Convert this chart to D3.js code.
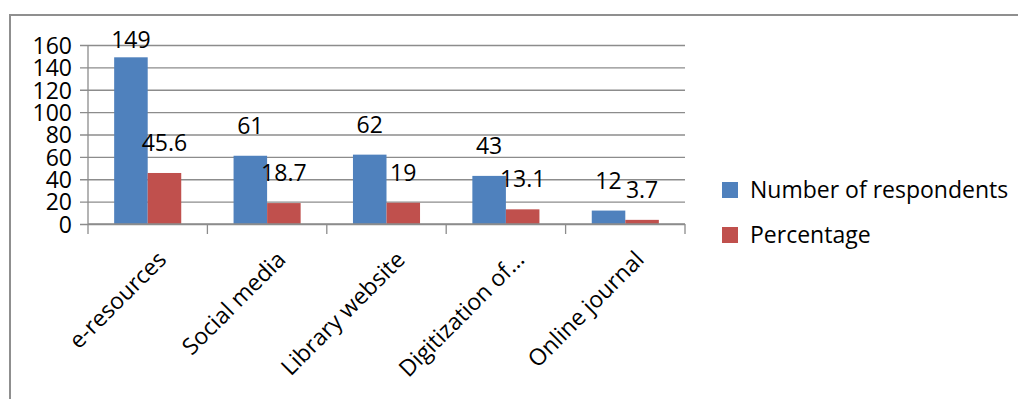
<!DOCTYPE html>
<html>
<head>
<meta charset="utf-8">
<script src="https://cdn.jsdelivr.net/npm/d3@7"></script>
<style>
  body { margin: 0; background: #fff; }
  svg text { font-family: "Open Sans", sans-serif; font-size: 23px; fill: #000; }
</style>
</head>
<body>
<svg id="chart" width="1018" height="399"></svg>
<script>
// Data
const categories = ["e-resources", "Social media", "Library website", "Digitization of...", "Online journal"];
const seriesNames = ["Number of respondents", "Percentage"];
const respondents = [149, 61, 62, 43, 12];
const percentage = [45.6, 18.7, 19, 13.1, 3.7];
const yTicks = [0, 20, 40, 60, 80, 100, 120, 140, 160];

const colors = ["#4F81BD", "#C0504D"];
const gridColor = "#8c8c8c";

const svg = d3.select("#chart");
const W = 1018, H = 399;

// Chart frame (top and left edges visible)
svg.append("path")
  .attr("d", `M10,${H} L10,15 L${W},15`)
  .attr("fill", "none")
  .attr("stroke", "#8f8f8f")
  .attr("stroke-width", 2);

const plot = { left: 88, right: 685, top: 45, bottom: 224 };

const x = d3.scaleBand()
  .domain(categories)
  .range([plot.left, plot.right])
  .paddingInner(0)
  .paddingOuter(0);

const xs = d3.scaleBand()
  .domain(seriesNames)
  .range([0, x.bandwidth()])
  .paddingInner(0)
  .paddingOuter(0.78);

const y = d3.scaleLinear()
  .domain([0, 160])
  .range([plot.bottom, plot.top]);

// Horizontal gridlines with left tick marks
const yAxis = d3.axisLeft(y)
  .tickValues(yTicks)
  .tickSize(-(plot.right - plot.left))
  .tickSizeOuter(0)
  .tickFormat(d3.format("d"));

const gy = svg.append("g")
  .attr("transform", `translate(${plot.left},0)`)
  .call(yAxis);
gy.select(".domain").remove();
gy.selectAll(".tick line")
  .attr("x1", -8)
  .attr("stroke", gridColor)
  .attr("stroke-width", 1.3);
gy.selectAll(".tick text")
  .attr("x", -16)
  .attr("dy", "0.36em")
  .attr("fill", "#000")
  .style("font-family", "'Open Sans', sans-serif")
  .style("font-size", "23px");

// Vertical axis line
svg.append("line")
  .attr("x1", plot.left).attr("x2", plot.left)
  .attr("y1", plot.top).attr("y2", plot.bottom)
  .attr("stroke", gridColor).attr("stroke-width", 1.3);

// Bars
const groups = svg.append("g").selectAll("g")
  .data(categories)
  .join("g")
  .attr("transform", d => `translate(${x(d)},0)`);

const rows = categories.map((c, i) => [
  { series: seriesNames[0], value: respondents[i], color: colors[0] },
  { series: seriesNames[1], value: percentage[i], color: colors[1] }
]);

groups.selectAll("rect")
  .data((d, i) => rows[i])
  .join("rect")
  .attr("x", d => xs(d.series))
  .attr("width", xs.bandwidth())
  .attr("y", d => y(d.value))
  .attr("height", d => y(0) - y(d.value))
  .attr("fill", d => d.color);

// Value labels above bars, kept inside the plot area
groups.selectAll("text.value")
  .data((d, i) => rows[i])
  .join("text")
  .attr("class", "value")
  .attr("x", d => xs(d.series) + xs.bandwidth() / 2)
  .attr("y", d => Math.max(y(d.value) - 22, plot.top + 3))
  .attr("text-anchor", "middle")
  .text(d => d.value);

// Category axis line and tick marks at band edges
svg.append("line")
  .attr("x1", plot.left).attr("x2", plot.right)
  .attr("y1", plot.bottom).attr("y2", plot.bottom)
  .attr("stroke", gridColor).attr("stroke-width", 1.3);

const edges = categories.map(c => x(c)).concat([plot.right]);
svg.append("g").selectAll("line")
  .data(edges)
  .join("line")
  .attr("x1", d => d).attr("x2", d => d)
  .attr("y1", plot.bottom).attr("y2", plot.bottom + 10)
  .attr("stroke", gridColor).attr("stroke-width", 1.3);

// Rotated category labels
svg.append("g").selectAll("text")
  .data(categories)
  .join("text")
  .attr("text-anchor", "end")
  .attr("transform", d => `translate(${x(d) + x.bandwidth() / 2 + 20},${plot.bottom + 37}) rotate(-45)`)
  .text(d => d);

// Legend
const legend = svg.append("g").selectAll("g")
  .data(seriesNames)
  .join("g")
  .attr("transform", (d, i) => `translate(722,${182 + i * 45})`);

legend.append("rect")
  .attr("width", 16).attr("height", 16)
  .attr("fill", (d, i) => colors[i]);

legend.append("text")
  .attr("x", 28)
  .attr("y", 16)
  .text(d => d);
</script>
</body>
</html>
